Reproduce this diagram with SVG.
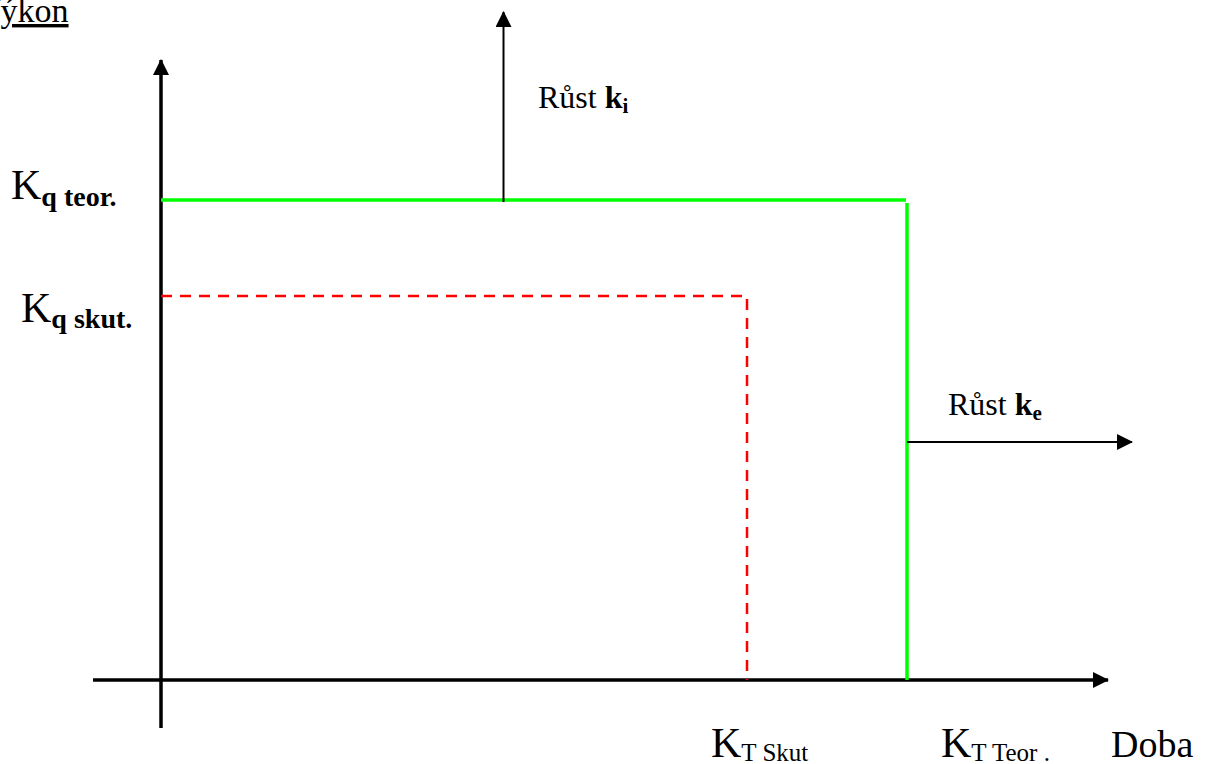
<svg xmlns="http://www.w3.org/2000/svg" width="1212" height="764" viewBox="0 0 1212 764">
<style>
text{font-family:"Liberation Serif","Times New Roman",serif;fill:#000}
.axis{stroke:#000;stroke-width:3.5;fill:none}
.arr{stroke:#000;stroke-width:2;fill:none}
.green{stroke:#00ff00;stroke-width:3.5;fill:none}
.red{stroke:#ff0000;stroke-width:2.5;fill:none;stroke-dasharray:11 8}
.big{font-size:42px}
.sub{font-size:25px}
.bsub{font-size:28px;font-weight:bold}
.lbl{font-size:32px}
</style>
<defs>
<marker id="ah" viewBox="0 0 16 16" refX="15" refY="8" markerWidth="16" markerHeight="16" markerUnits="userSpaceOnUse" orient="auto">
<path d="M0,0 L16,8 L0,16 Z" fill="#000"/>
</marker>
</defs>
<g id="title">
<text x="-24" y="22" font-size="34" text-decoration="underline">Výkon</text>
</g>
<g id="connectors">
<line class="axis" x1="161" y1="728" x2="161" y2="60" marker-end="url(#ah)"/>
<line class="axis" x1="93" y1="680" x2="1108" y2="680" marker-end="url(#ah)"/>
<polyline class="green" points="161,200 906,200"/>
<line class="green" x1="907" y1="203" x2="907" y2="680"/>
<polyline class="red" points="161,296 747,296 747,680"/>
<line class="arr" x1="503.5" y1="202" x2="503.5" y2="12" marker-end="url(#ah)"/>
<line class="arr" x1="907" y1="442" x2="1132" y2="442" marker-end="url(#ah)"/>
</g>
<g id="kq-teor"><text x="11" y="199"><tspan class="big">K</tspan><tspan class="bsub" y="206">q teor.</tspan></text></g>
<g id="kq-skut"><text x="21" y="322"><tspan class="big">K</tspan><tspan class="bsub" y="328">q skut.</tspan></text></g>
<g id="rust-ki"><text x="538" y="108" class="lbl">Růst <tspan font-weight="bold">k</tspan><tspan font-weight="bold" font-size="21" y="113">i</tspan></text></g>
<g id="rust-ke"><text x="948" y="415" class="lbl">Růst <tspan font-weight="bold">k</tspan><tspan font-weight="bold" font-size="21" y="420">e</tspan></text></g>
<g id="kt-skut"><text x="711" y="757"><tspan class="big">K</tspan><tspan class="sub" y="761">T Skut</tspan></text></g>
<g id="kt-teor"><text x="941" y="757"><tspan class="big">K</tspan><tspan class="sub" y="761">T Teor .</tspan></text></g>
<g id="doba"><text x="1111" y="757" font-size="38">Doba</text></g>
</svg>
